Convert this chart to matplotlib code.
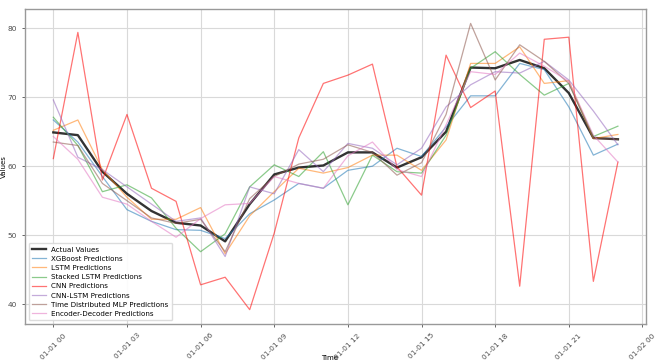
import matplotlib
matplotlib.use("Agg")
import matplotlib.pyplot as plt
import matplotlib.dates as mdates
import pandas as pd

# hourly timestamps for one day
times = pd.date_range("2023-01-01 00:00", periods=24, freq="h")

actual = [64.9, 64.5, 59.2, 56.0, 53.5, 51.8, 51.4, 49.1, 54.5, 58.8, 59.8, 60.1,
          62.0, 62.0, 59.8, 61.3, 65.0, 74.3, 74.2, 75.4, 74.2, 70.6, 64.1, 63.9]
xgboost = [66.7, 63.5, 58.5, 53.7, 52.0, 50.8, 50.7, 49.5, 53.1, 55.1, 57.5, 56.8,
           59.4, 60.0, 62.6, 61.4, 65.7, 70.2, 70.2, 74.9, 74.0, 68.6, 61.6, 63.2]
lstm = [65.2, 66.7, 59.5, 55.5, 52.3, 52.3, 54.0, 47.3, 52.8, 56.3, 59.7, 59.0,
        59.8, 61.6, 61.6, 59.4, 63.8, 74.9, 74.9, 77.3, 72.0, 72.4, 64.0, 64.6]
stacked_lstm = [67.1, 63.0, 56.3, 57.3, 55.4, 51.0, 47.6, 50.2, 57.0, 60.2, 58.5, 62.1,
                54.4, 61.6, 59.2, 59.0, 64.5, 74.2, 76.6, 73.3, 70.3, 72.0, 64.3, 65.8]
cnn = [61.1, 79.4, 58.0, 67.5, 56.8, 54.9, 42.8, 43.9, 39.2, 50.3, 64.1, 72.0,
       73.2, 74.8, 59.9, 55.8, 76.1, 68.5, 70.9, 42.6, 78.4, 78.7, 43.3, 60.6]
cnn_lstm = [69.6, 61.3, 59.5, 57.0, 54.5, 52.0, 52.5, 46.9, 57.0, 56.0, 62.4, 59.2,
            63.3, 62.6, 60.2, 62.6, 68.6, 71.8, 73.7, 73.5, 75.2, 72.5, 68.0, 63.1]
td_mlp = [63.5, 63.0, 57.5, 55.0, 52.5, 51.7, 52.3, 47.6, 55.3, 58.5, 60.3, 61.0,
          63.1, 62.0, 58.7, 60.5, 67.5, 80.7, 72.5, 77.6, 75.2, 72.0, 64.0, 63.9]
enc_dec = [64.3, 61.0, 55.5, 54.5, 52.0, 49.7, 52.4, 54.4, 54.6, 58.5, 57.5, 56.8,
           61.5, 63.5, 59.5, 58.5, 66.0, 73.7, 73.3, 76.4, 74.5, 72.3, 64.5, 60.6]

predictions = [
    ("XGBoost Predictions", xgboost, "tab:blue"),
    ("LSTM Predictions", lstm, "tab:orange"),
    ("Stacked LSTM Predictions", stacked_lstm, "tab:green"),
    ("CNN Predictions", cnn, "red"),
    ("CNN-LSTM Predictions", cnn_lstm, "tab:purple"),
    ("Time Distributed MLP Predictions", td_mlp, "tab:brown"),
    ("Encoder-Decoder Predictions", enc_dec, "tab:pink"),
]

fig = plt.figure(figsize=(6.6, 3.64), dpi=100)
ax = fig.add_axes([0.038, 0.110, 0.941, 0.865])

ax.plot(times, actual, color="black", linewidth=1.7, alpha=0.8, label="Actual Values")
for name, vals, col in predictions:
    ax.plot(times, vals, color=col, linewidth=0.9, alpha=0.55, label=name)

ax.xaxis.set_major_locator(mdates.HourLocator(interval=3))
ax.xaxis.set_major_formatter(mdates.DateFormatter("%m-%d %H"))
ax.set_xlim(times[0] - pd.Timedelta(hours=1.15), times[-1] + pd.Timedelta(hours=1.15))
ax.set_yticks([40, 50, 60, 70, 80])

ax.tick_params(labelsize=5.3, length=2.5, width=0.6, colors="0.3")
plt.setp(ax.get_xticklabels(), rotation=45)
ax.set_xlabel("Time", fontsize=5)
ax.set_ylabel("Values", fontsize=5)
ax.xaxis.set_label_coords(0.49, -0.1)
ax.yaxis.set_label_coords(-0.03, 0.5)
ax.grid(True, color="0.85", linewidth=0.8)
for sp in ax.spines.values():
    sp.set_color("0.6")
    sp.set_linewidth(1.0)

ax.legend(loc="lower left", fontsize=5.1, frameon=True, framealpha=0.9,
          edgecolor="0.85", handlelength=1.9, borderpad=0.5, labelspacing=0.45)

fig.savefig("out.png", dpi=100)
